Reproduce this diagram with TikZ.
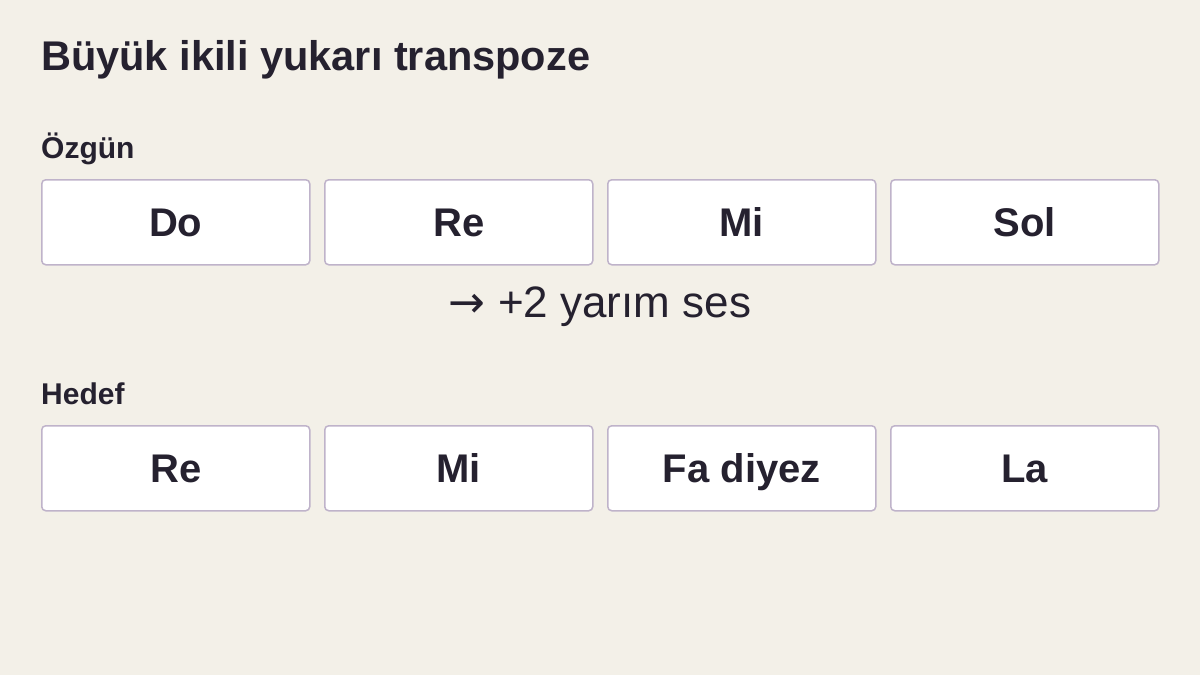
\documentclass[tikz,border=0pt]{standalone}
\usepackage{fontspec}
\setmainfont{Liberation Sans}
\newfontfamily\arrowfont{DejaVu Sans}
\usepackage{tikz}
\usetikzlibrary{positioning}
\definecolor{paper}{HTML}{F3F0E8}
\definecolor{ink}{HTML}{25212F}
\definecolor{edge}{HTML}{BFB3CA}

\begin{document}
\begin{tikzpicture}[x=1pt,y=-1pt,
    notebox/.style={draw=edge, line width=1.5pt, fill=white, rounded corners=4pt,
        minimum width=268pt, minimum height=85pt, inner sep=0pt, outer sep=0pt,
        text height=29pt, text depth=0pt, text=ink,
        font=\fontsize{40}{48}\selectfont\bfseries},
    rowlabel/.style={anchor=base west, inner sep=0pt, text=ink,
        font=\fontsize{30}{36}\selectfont\bfseries}
]
\fill[paper] (0,0) rectangle (1200,675);

\node[anchor=base west, inner sep=0pt, text=ink,
      font=\fontsize{41.5}{48}\selectfont\bfseries] (title) at (41,70) {Büyük ikili yukarı transpoze};

% original notes
\node[rowlabel] (origlabel) at (41,158) {Özgün};
\node[notebox, anchor=north west] (orig1) at (41.75,179.75) {Do};
\node[notebox, right=15pt of orig1] (orig2) {Re};
\node[notebox, right=15pt of orig2] (orig3) {Mi};
\node[notebox, right=15pt of orig3] (orig4) {Sol};

\node[anchor=base, inner sep=0pt, text=ink,
      font=\fontsize{44}{50}\selectfont] (shift) at (600,317) {{\arrowfont →} +2 yarım ses};

% target notes
\node[rowlabel] (targetlabel) at (41,404) {Hedef};
\node[notebox, anchor=north west] (target1) at (41.75,425.75) {Re};
\node[notebox, right=15pt of target1] (target2) {Mi};
\node[notebox, right=15pt of target2] (target3) {Fa diyez};
\node[notebox, right=15pt of target3] (target4) {La};
\end{tikzpicture}
\end{document}
